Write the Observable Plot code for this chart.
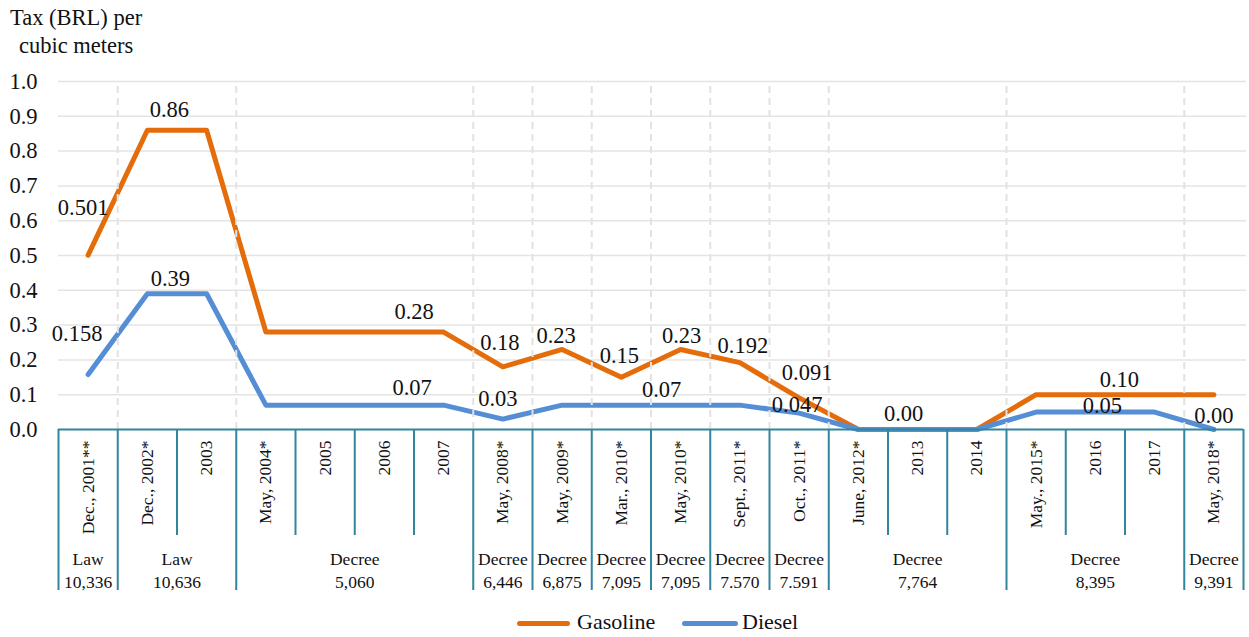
<!DOCTYPE html>
<html>
<head>
<meta charset="utf-8">
<script src="https://cdn.jsdelivr.net/npm/d3@7"></script>
<script src="https://cdn.jsdelivr.net/npm/@observablehq/plot@0.6"></script>
<style>
  body { margin: 0; background: #fff; font-family: "Liberation Serif", LiberationSerif, Tinos, Times, "DejaVu Serif", serif; color: #111; }
  #wrap { width: 1249px; position: relative; }
  #title { height: 60px; position: relative; font-size: 22.5px; }
  #title div { position: absolute; white-space: nowrap; line-height: 1; }
  #legend { height: 37px; position: relative; font-size: 22px; }
  #legend .sw { position: absolute; height: 5px; border-radius: 3px; top: 21px; }
  #legend .lb { position: absolute; top: 11px; line-height: 1; white-space: nowrap; }
  svg { display: block; }
</style>
</head>
<body>
<div id="wrap">
  <div id="title">
    <div style="left:10px; top:7px;">Tax (BRL) per</div>
    <div style="left:19px; top:35px;">cubic meters</div>
  </div>
  <div id="chart"></div>
  <div id="legend">
    <div class="sw" style="left:517px; width:53px; background:#E46C0A;"></div>
    <div class="lb" style="left:577px;">Gasoline</div>
    <div class="sw" style="left:682px; width:56px; background:#558ED5;"></div>
    <div class="lb" style="left:742px;">Diesel</div>
  </div>
</div>
<script>
// ---- data ----
const categories = [
  "Dec., 2001**", "Dec., 2002*", "2003", "May, 2004*", "2005", "2006", "2007",
  "May, 2008*", "May, 2009*", "Mar., 2010*", "May, 2010*", "Sept., 2011*", "Oct., 2011*",
  "June, 2012*", "2013", "2014", "May., 2015*", "2016", "2017", "May, 2018*"
];
const gasoline = [0.501, 0.86, 0.86, 0.28, 0.28, 0.28, 0.28, 0.18, 0.23, 0.15, 0.23, 0.192, 0.091,
  0.00, 0.00, 0.00, 0.10, 0.10, 0.10, 0.10];
const diesel = [0.158, 0.39, 0.39, 0.07, 0.07, 0.07, 0.07, 0.03, 0.07, 0.07, 0.07, 0.07, 0.047,
  0.00, 0.00, 0.00, 0.05, 0.05, 0.05, 0.00];
const groupNames   = ["Law", "Law", "Decree", "Decree", "Decree", "Decree", "Decree", "Decree", "Decree", "Decree", "Decree", "Decree"];
const groupNumbers = ["10,336", "10,636", "5,060", "6,446", "6,875", "7,095", "7,095", "7.570", "7.591", "7,764", "8,395", "9,391"];
const groupStarts  = [0, 1, 3, 7, 8, 9, 10, 11, 12, 13, 16, 19];
const yTicks = [0, 0.1, 0.2, 0.3, 0.4, 0.5, 0.6, 0.7, 0.8, 0.9, 1.0];

// which value labels are shown (category index + text), and their nudges
const gasolineLabels = [
  {i: 0, text: "0.501"}, {i: 1, text: "0.86"}, {i: 4, text: "0.28"}, {i: 7, text: "0.18"},
  {i: 8, text: "0.23"}, {i: 9, text: "0.15"}, {i: 10, text: "0.23"}, {i: 11, text: "0.192"},
  {i: 12, text: "0.091"}, {i: 14, text: "0.00"}, {i: 17, text: "0.10"}
];
const gasolineNudge = [[-5, -47], [22, -20], [89, -20], [-3, -24], [-6, -14], [-2, -22], [1, -14], [3, -17], [8, -25], [-14, -16], [24, -15]];
const dieselLabels = [
  {i: 0, text: "0.158"}, {i: 1, text: "0.39"}, {i: 4, text: "0.07"}, {i: 7, text: "0.03"},
  {i: 10, text: "0.07"}, {i: 12, text: "0.047"}, {i: 17, text: "0.05"}, {i: 19, text: "0.00"}
];
const dieselNudge = [[-11, -41], [23, -15], [87, -17], [-5, -20], [-19, -15], [-2, -8], [7, -6], [0, -14]];

// ---- layout ----
const W = 1249, H = 540, MT = 21, MB = 171, ML = 58, MR = 6;
const plotH = H - MT - MB;
const below = px => -px / plotH; // pixel distance below the baseline, in y units
const FONT = "'Liberation Serif', LiberationSerif, Tinos, Times, 'DejaVu Serif', serif";

const GAS = "#E46C0A", DIE = "#558ED5", TEAL = "#31859C";

const gasData = gasoline.map((v, i) => ({i, v}));
const dieData = diesel.map((v, i) => ({i, v}));
const groups = groupStarts.map((s, k) => {
  const e = k < groupStarts.length - 1 ? groupStarts[k + 1] - 1 : categories.length - 1;
  return {s, e, text: groupNames[k] + "\n" + groupNumbers[k]};
});
const allEdges = d3.range(categories.length + 1);
const majorEdges = [...groupStarts, categories.length];
const minorEdges = allEdges.filter(e => !majorEdges.includes(e));
const dashedEdges = groupStarts.filter(s => s > 0);

const labelMark = (labels, nudge, series) => labels.map((d, k) =>
  Plot.text([d], {
    x: "i", y: e => series[e.i], text: "text",
    dx: nudge[k][0], dy: nudge[k][1], fontSize: 22.5, fill: "#111", lineAnchor: "middle"
  })
);

const chart = Plot.plot({
  width: W, height: H,
  marginTop: MT, marginBottom: MB, marginLeft: ML, marginRight: MR,
  x: {type: "linear", domain: [-0.5, categories.length - 0.5], axis: null},
  y: {domain: [0, 1], axis: null},
  style: {fontFamily: FONT, color: "#111", background: "#fff"},
  marks: [
    Plot.ruleY(yTicks.filter(t => t > 0), {x1: -0.5, x2: categories.length - 0.45, stroke: "#e4e4e4", strokeWidth: 1.5}),
    Plot.axisY(yTicks, {tickFormat: d3.format(".1f"), tickSize: 0, tickPadding: 21, fontSize: 22.5, fill: "#111", label: null}),
    Plot.line(gasData, {x: "i", y: "v", stroke: GAS, strokeWidth: 5, strokeLinejoin: "round", strokeLinecap: "round"}),
    Plot.line(dieData, {x: "i", y: "v", stroke: DIE, strokeWidth: 5, strokeLinejoin: "round", strokeLinecap: "round"}),
    Plot.ruleX(dashedEdges, {x: d => d - 0.5, y1: 0, y2: 1, stroke: "#e2e2e2", strokeWidth: 2, strokeDasharray: "7,5"}),
    // category box
    Plot.ruleY([0], {x1: -0.5, x2: categories.length - 0.5, stroke: TEAL, strokeWidth: 2}),
    Plot.ruleX(minorEdges, {x: d => d - 0.5, y1: 0, y2: below(106), stroke: TEAL, strokeWidth: 2}),
    Plot.ruleX(majorEdges, {x: d => d - 0.5, y1: 0, y2: below(161), stroke: TEAL, strokeWidth: 2}),
    Plot.text(categories, {
      x: (d, i) => i, y: () => below(11), text: d => d,
      rotate: -90, textAnchor: "end", lineAnchor: "middle", fontSize: 17.5, fill: "#111"
    }),
    Plot.text(groups, {
      x: d => (d.s + d.e) / 2, y: () => below(140), text: "text",
      lineAnchor: "middle", lineHeight: 1.3, fontSize: 17.5, fill: "#111"
    }),
    ...labelMark(gasolineLabels, gasolineNudge, gasoline),
    ...labelMark(dieselLabels, dieselNudge, diesel)
  ]
});
document.getElementById("chart").appendChild(chart);
</script>
</body>
</html>
